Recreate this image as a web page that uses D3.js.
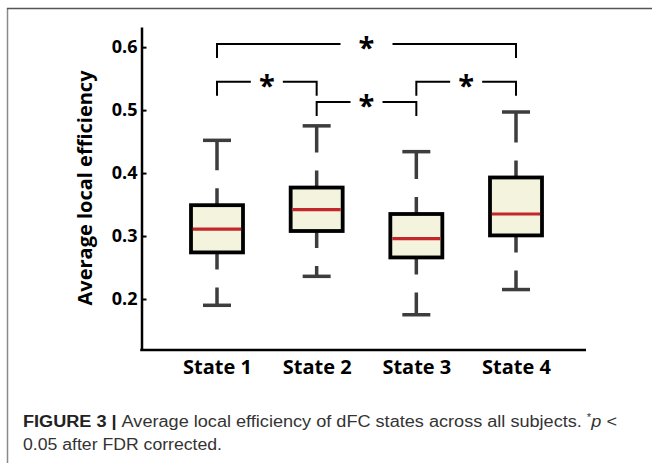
<!DOCTYPE html>
<html><head><meta charset="utf-8">
<script src="https://cdn.jsdelivr.net/npm/d3@7"></script>
<style>html,body{margin:0;padding:0;background:#fff;}svg{display:block;}</style>
</head><body>
<script>
const categories = ["State 1", "State 2", "State 3", "State 4"];
const lowerWhisker = [0.190, 0.236, 0.175, 0.215];
const q1 = [0.274, 0.308, 0.266, 0.301];
const medians = [0.311, 0.342, 0.296, 0.335];
const q3 = [0.349, 0.377, 0.335, 0.393];
const upperWhisker = [0.452, 0.475, 0.434, 0.497];
const yTicks = [0.2, 0.3, 0.4, 0.5, 0.6];
// significance brackets: [from, to, height]
const sigFrom = ["State 1", "State 1", "State 2", "State 3"];
const sigTo = ["State 4", "State 2", "State 3", "State 4"];
const sigLevel = [0.605, 0.545, 0.513, 0.545];
const yLabel = "Average local efficiency";

const W = 652, H = 463;
const svg = d3.select("body").append("svg").attr("width", W).attr("height", H);

// frame
svg.append("line").attr("x1", 7.5).attr("x2", 7.5).attr("y1", 8).attr("y2", H)
  .attr("stroke", "#8a8a8a").attr("stroke-width", 1.5);
svg.append("line").attr("x1", 7).attr("x2", W).attr("y1", 8.5).attr("y2", 8.5)
  .attr("stroke", "#555").attr("stroke-width", 1.5);

const axisLeftX = 141.5, axisBottomY = 350, axisRight = 586;
const x = d3.scalePoint().domain(categories).range([217, 516]);
const y = d3.scaleLinear().domain([0.119, 0.632]).range([350, 27]);

const font = "'Open Sans', 'DejaVu Sans', sans-serif";

// y axis
const ya = svg.append("g").attr("transform", `translate(${axisLeftX},0)`)
  .call(d3.axisLeft(y).tickValues(yTicks).tickFormat(d3.format(".1f"))
    .tickSizeInner(-5).tickSizeOuter(0).tickPadding(4));
ya.select(".domain").attr("stroke", "#000").attr("stroke-width", 2.5);
ya.selectAll(".tick line").attr("stroke", "#000").attr("stroke-width", 2);
ya.selectAll(".tick text").attr("font-family", font).attr("font-weight", "bold")
  .attr("font-size", 18).attr("fill", "#000");

// x axis
const xa = svg.append("g").attr("transform", `translate(0,${axisBottomY})`)
  .call(d3.axisBottom(x).tickSize(0).tickPadding(10));
xa.select(".domain").remove();
xa.selectAll(".tick text").attr("font-family", font).attr("font-weight", "bold")
  .attr("font-size", 20).attr("fill", "#000");
svg.append("line").attr("x1", axisLeftX - 1.25).attr("x2", axisRight)
  .attr("y1", axisBottomY).attr("y2", axisBottomY)
  .attr("stroke", "#000").attr("stroke-width", 2.5);

// y label
svg.append("text").attr("transform", `translate(92,188) rotate(-90)`)
  .attr("text-anchor", "middle").attr("font-family", font).attr("font-weight", "bold")
  .attr("font-size", 20).attr("fill", "#000").text(yLabel);

// boxes
const boxW = 52, capW = 28;
const data = categories.map((c, i) => ({c, lo: lowerWhisker[i], q1: q1[i], med: medians[i], q3: q3[i], hi: upperWhisker[i]}));
const g = svg.append("g");
const wcol = "#3d3d3d";
data.forEach(d => {
  const cx = x(d.c);
  g.append("line").attr("x1", cx).attr("x2", cx).attr("y1", y(d.q3)).attr("y2", y(d.hi))
    .attr("stroke", wcol).attr("stroke-width", 3.5).attr("stroke-dasharray", "17,18,600,0");
  g.append("line").attr("x1", cx).attr("x2", cx).attr("y1", y(d.q1)).attr("y2", y(d.lo))
    .attr("stroke", wcol).attr("stroke-width", 3.5).attr("stroke-dasharray", "17,18,600,0");
  g.append("line").attr("x1", cx - capW/2).attr("x2", cx + capW/2).attr("y1", y(d.hi)).attr("y2", y(d.hi))
    .attr("stroke", wcol).attr("stroke-width", 3.5);
  g.append("line").attr("x1", cx - capW/2).attr("x2", cx + capW/2).attr("y1", y(d.lo)).attr("y2", y(d.lo))
    .attr("stroke", wcol).attr("stroke-width", 3.5);
  g.append("rect").attr("x", cx - boxW/2).attr("width", boxW)
    .attr("y", y(d.q3)).attr("height", y(d.q1) - y(d.q3))
    .attr("fill", "#f4f3dd").attr("stroke", "#000").attr("stroke-width", 3.8);
  g.append("line").attr("x1", cx - boxW/2 + 1.9).attr("x2", cx + boxW/2 - 1.9)
    .attr("y1", y(d.med)).attr("y2", y(d.med))
    .attr("stroke", "#c4272b").attr("stroke-width", 3.2);
});

// significance brackets
const legLen = 14;
sigFrom.forEach((f, i) => {
  const x1 = x(f), x2 = x(sigTo[i]), yy = y(sigLevel[i]);
  const mid = (x1 + x2) / 2;
  const gap = i === 0 ? 26 : 16;
  const p = d3.path();
  p.moveTo(x1, yy + legLen); p.lineTo(x1, yy); p.lineTo(mid - gap, yy);
  p.moveTo(mid + gap, yy); p.lineTo(x2, yy); p.lineTo(x2, yy + legLen);
  svg.append("path").attr("d", p.toString()).attr("fill", "none")
    .attr("stroke", "#000").attr("stroke-width", 2);
  svg.append("text").attr("x", mid).attr("y", yy + 14).attr("text-anchor", "middle")
    .attr("font-family", font).attr("font-weight", "bold").attr("font-size", 29)
    .attr("fill", "#000").text("*");
});

// caption
const capFont = "'Liberation Sans', Arial, sans-serif";
const t1 = svg.append("text").attr("x", 23).attr("y", 427).attr("font-family", capFont)
  .attr("font-size", 16).attr("fill", "#333")
  .attr("textLength", 594).attr("lengthAdjust", "spacingAndGlyphs");
t1.append("tspan").attr("font-weight", "bold").attr("fill", "#222").text("FIGURE 3 | ");
t1.append("tspan").text("Average local efficiency of dFC states across all subjects. ");
t1.append("tspan").attr("font-size", 10).attr("dy", -6).text("*");
t1.append("tspan").attr("font-style", "italic").attr("dy", 6).text("p");
t1.append("tspan").text(" <");
svg.append("text").attr("x", 23).attr("y", 449.5).attr("font-family", capFont)
  .attr("font-size", 16).attr("fill", "#333")
  .attr("textLength", 199).attr("lengthAdjust", "spacingAndGlyphs")
  .text("0.05 after FDR corrected.");
</script>
</body></html>
